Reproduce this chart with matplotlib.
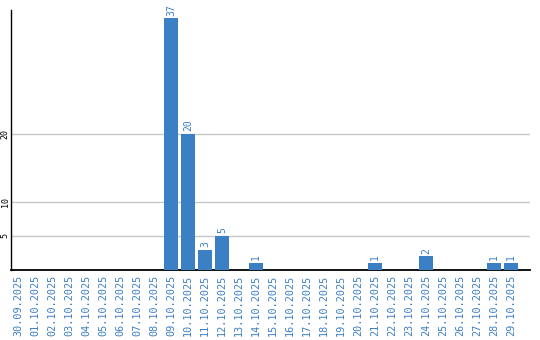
import numpy as np
import matplotlib
matplotlib.use("Agg")
import matplotlib.pyplot as plt

# daily counts, 30.09.2025 - 29.10.2025
dates = [
    "30.09.2025", "01.10.2025", "02.10.2025", "03.10.2025", "04.10.2025",
    "05.10.2025", "06.10.2025", "07.10.2025", "08.10.2025", "09.10.2025",
    "10.10.2025", "11.10.2025", "12.10.2025", "13.10.2025", "14.10.2025",
    "15.10.2025", "16.10.2025", "17.10.2025", "18.10.2025", "19.10.2025",
    "20.10.2025", "21.10.2025", "22.10.2025", "23.10.2025", "24.10.2025",
    "25.10.2025", "26.10.2025", "27.10.2025", "28.10.2025", "29.10.2025",
]
counts = [0, 0, 0, 0, 0, 0, 0, 0, 0, 37,
          20, 3, 5, 0, 1, 0, 0, 0, 0, 0,
          0, 1, 0, 0, 2, 0, 0, 0, 1, 1]
y_ticks = [5, 10, 20]

bar_color = "#3b7fc4"
bar_w = 14 / 17

fig = plt.figure(figsize=(5.4, 3.4), dpi=100)
ax = fig.add_axes([11 / 540, 70 / 340, 519 / 540, 260 / 340])

x = np.arange(len(dates))
ax.bar(x, counts, width=bar_w, align="edge", color=bar_color, zorder=3)

for xi, c in zip(x, counts):
    if c > 0:
        ax.annotate(str(c), (xi + bar_w / 2, c), xytext=(0, 2),
                    textcoords="offset points", rotation=90,
                    ha="center", va="bottom", color=bar_color,
                    fontsize=7, family="DejaVu Sans Mono")

ax.set_xlim(0, 519 / 17)
ax.set_ylim(0, 260 / 6.8)

ax.set_xticks(x + bar_w / 2)
ax.set_xticklabels(dates, rotation=90, color=bar_color,
                   fontsize=7.3, family="DejaVu Sans Mono")
ax.set_yticks(y_ticks)
ax.set_yticklabels([str(v) for v in y_ticks], rotation=90, va="center",
                   fontsize=6, family="DejaVu Sans Mono")
ax.tick_params(axis="both", length=0)
ax.tick_params(axis="x", pad=3.6)
ax.tick_params(axis="y", pad=1)

ax.grid(axis="y", color="#c8c8c8", linewidth=1, zorder=0)
ax.spines["top"].set_visible(False)
ax.spines["right"].set_visible(False)
ax.spines["left"].set_linewidth(1)
ax.spines["bottom"].set_linewidth(1.3)

fig.savefig("out.png", dpi=100)
